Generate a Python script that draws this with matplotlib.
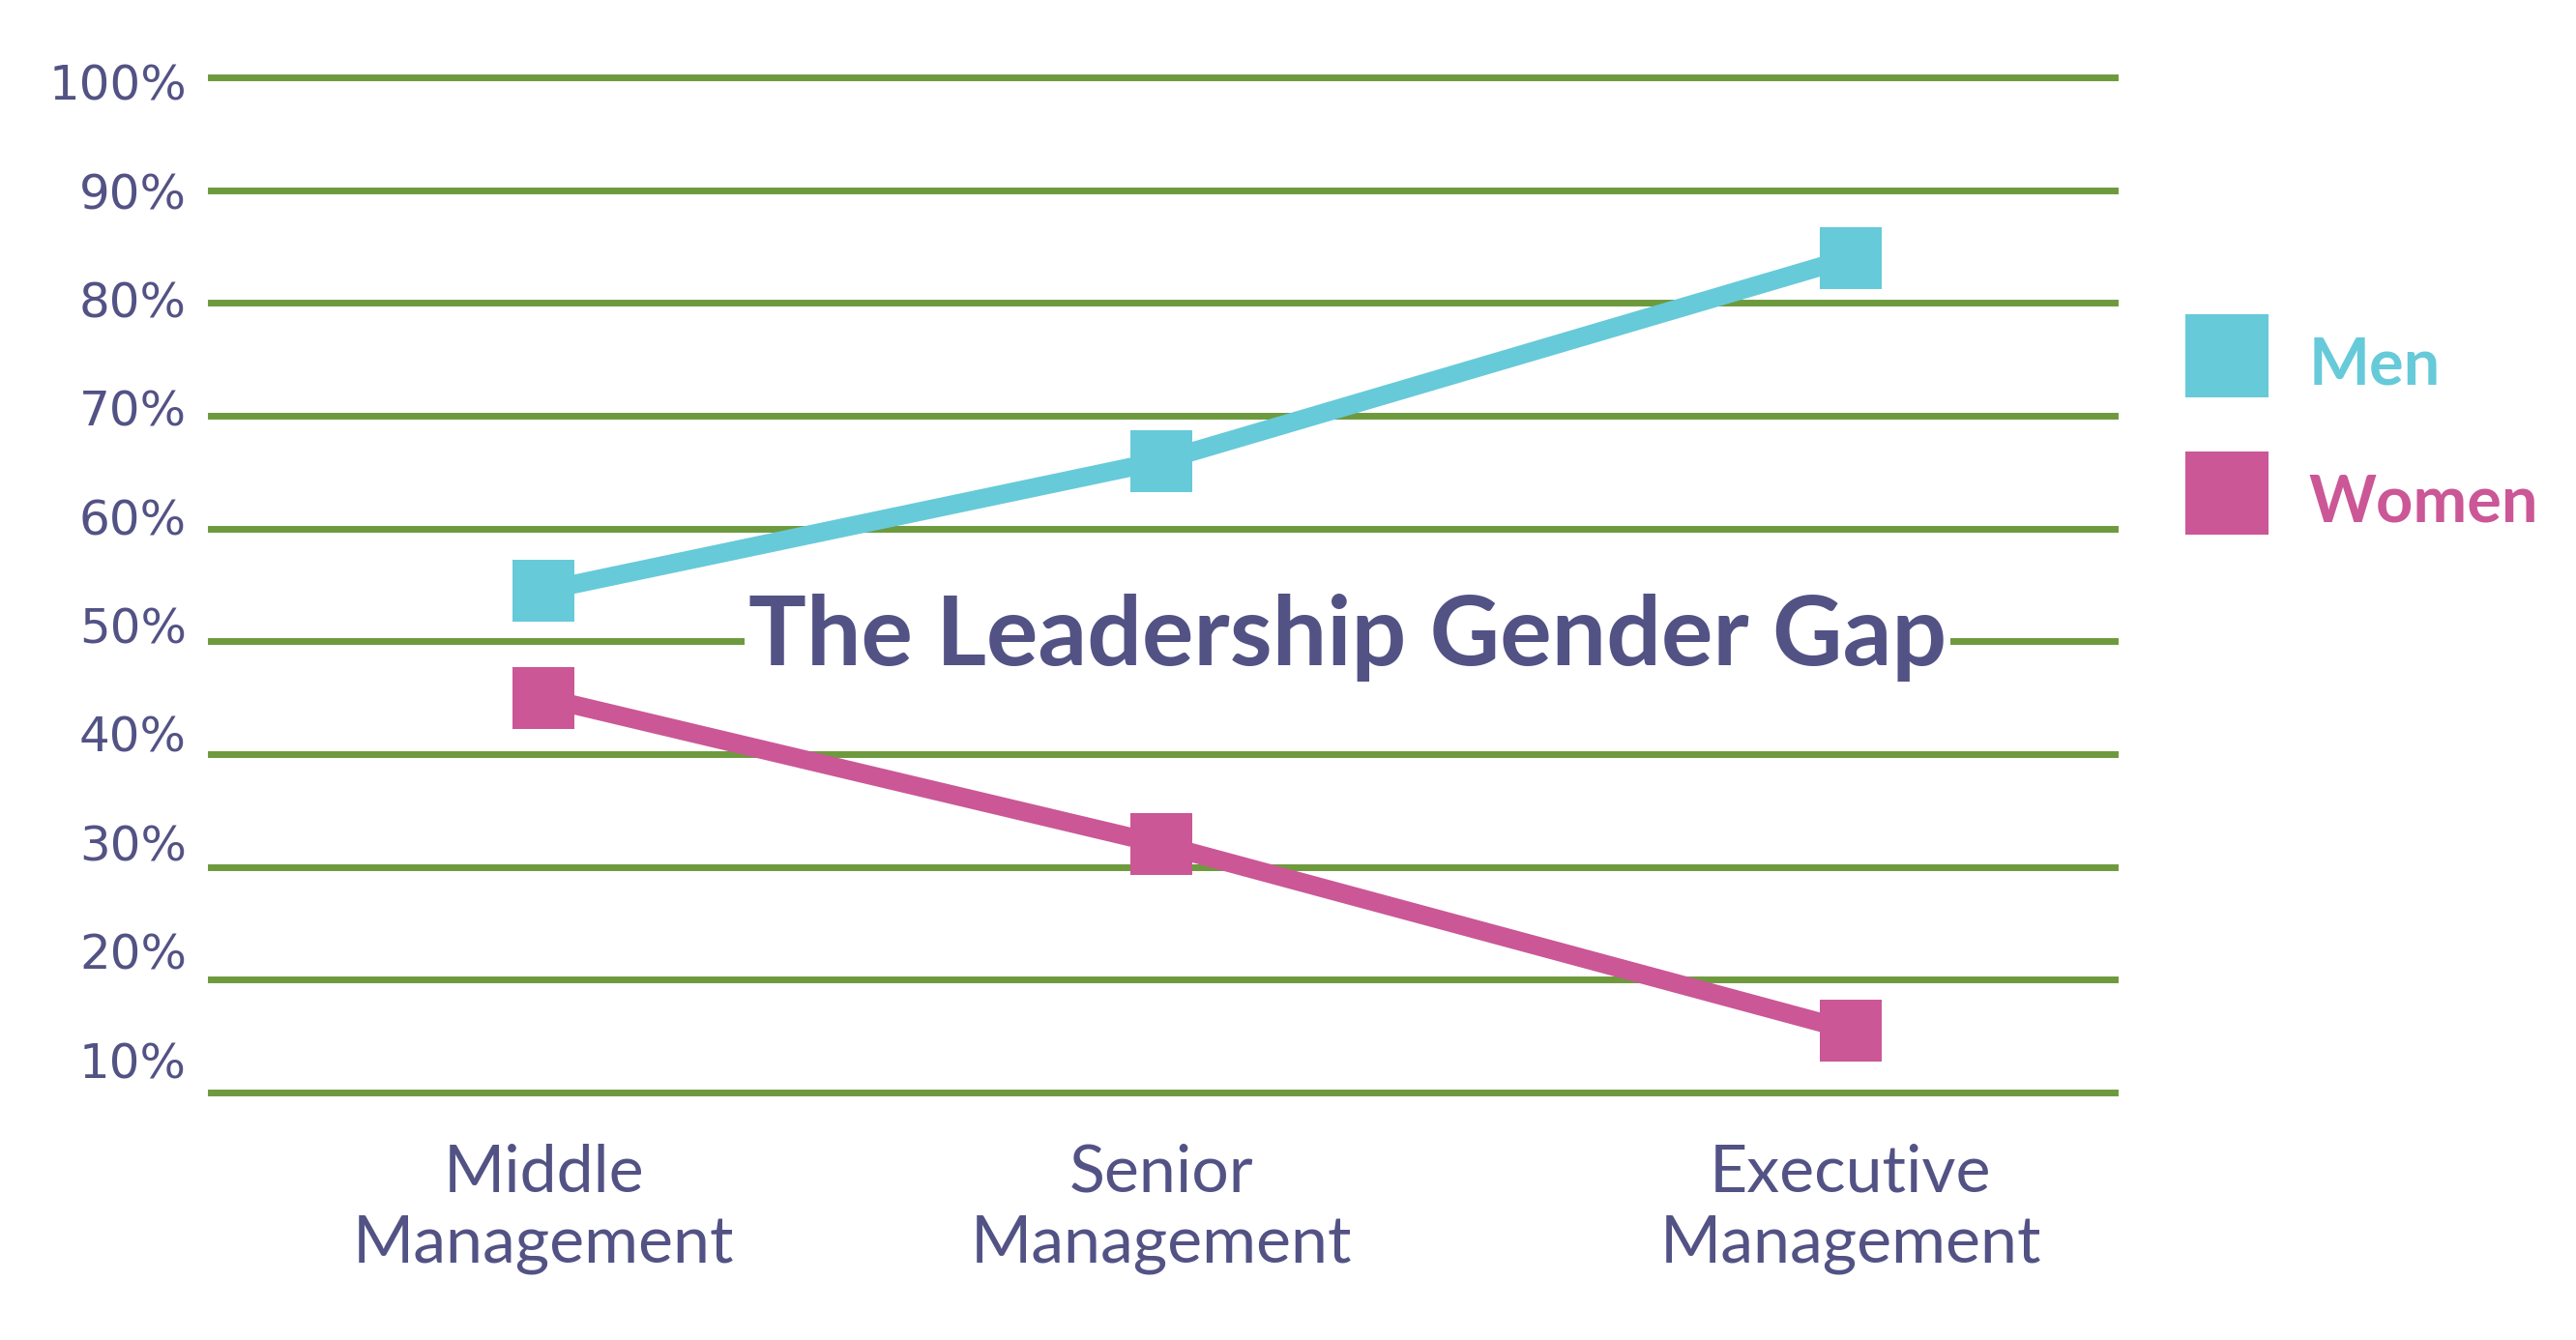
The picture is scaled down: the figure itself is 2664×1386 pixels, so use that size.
import numpy as np
import matplotlib
matplotlib.use("Agg")
import matplotlib.pyplot as plt
from matplotlib.lines import Line2D

# data
levels = ["Middle\nManagement", "Senior\nManagement", "Executive\nManagement"]
men = [54.5, 66, 84]
women = [45, 32, 15.5]
grid_levels = [10, 20, 30, 40, 50, 60, 70, 80, 90, 100]
tick_labels = ["10%", "20%", "30%", "40%", "50%", "60%", "70%", "80%", "90%", "100%"]

# layout (category spacing is uneven in the original)
x_pos = [0, 1, 2.117]
label_pos = np.linspace(12.9, 99.6, 10)

cyan = "#66CAD9"
pink = "#CB5796"
green = "#6E9A3E"
purple = "#535285"

plt.rcParams['font.family'] = ['Lato', 'DejaVu Sans']

fig = plt.figure(figsize=(26.64, 13.86), dpi=100)
ax = fig.add_axes([218 / 2664, 1 - 1130 / 1386, (2187 - 218) / 2664, (1130 - 80) / 1386])
ax.set_xlim(-0.5395, 2.545)
ax.set_ylim(10, 100)

for g in grid_levels:
    ax.axhline(g, color=green, lw=5, zorder=1, clip_on=False)

ax.plot(x_pos, men, color=cyan, lw=14, marker='s', ms=45.4, mew=0,
        solid_capstyle='butt', zorder=3, clip_on=False)
ax.plot(x_pos, women, color=pink, lw=14, marker='s', ms=45.4, mew=0,
        solid_capstyle='butt', zorder=3, clip_on=False)

ax.text(1.302, 47.86, "The Leadership Gender Gap", ha='center', va='baseline',
        fontsize=72, fontweight='bold', color=purple, zorder=4,
        bbox=dict(facecolor='white', edgecolor='none', pad=3))

ax.set_yticks(label_pos, tick_labels)
ax.set_xticks(x_pos, levels)
ax.tick_params(axis='y', length=0, pad=18, labelcolor=purple)
ax.tick_params(axis='x', length=0, pad=38, labelcolor=purple)
for lab in ax.get_yticklabels():
    lab.set_fontfamily('DejaVu Sans')
    lab.set_fontsize(36)
for lab in ax.get_xticklabels():
    lab.set_fontsize(49)
    lab.set_linespacing(1.22)
for s in ax.spines.values():
    s.set_visible(False)

handles = [Line2D([], [], ls='none', marker='s', ms=62.6, mew=0, color=cyan),
           Line2D([], [], ls='none', marker='s', ms=62.6, mew=0, color=pink)]
leg = fig.legend(handles, ["Men", "Women"], loc='upper left',
                 bbox_to_anchor=(2258 / 2664, 1 - 338 / 1386), frameon=False,
                 borderpad=0, borderaxespad=0, handlelength=1.34, handleheight=1.34,
                 handletextpad=0.6, labelspacing=1.02, prop={'size': 48, 'weight': 'bold'})
for t, c in zip(leg.get_texts(), [cyan, pink]):
    t.set_color(c)

fig.savefig("out.png", dpi=100, facecolor='white')
